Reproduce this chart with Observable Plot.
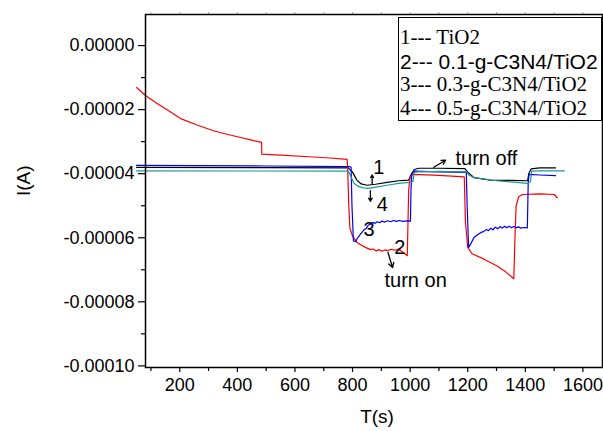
<!DOCTYPE html>
<html><head><meta charset="utf-8">
<script src="https://cdn.jsdelivr.net/npm/d3@7"></script>
<script src="https://cdn.jsdelivr.net/npm/@observablehq/plot@0.6"></script>
<style>
body{margin:0;background:#fff;}
#wrap{position:relative;width:603px;height:431px;overflow:hidden;}
#wrap svg{display:block;}
#legend{position:absolute;left:398px;top:17px;width:204px;height:104px;border:1.2px solid #000;box-sizing:border-box;background:#fff;}
.lg{position:absolute;left:1px;white-space:nowrap;font-size:21px;line-height:21px;color:#000;}
.serif{font-family:"Liberation Serif","Times New Roman",serif;}
.sans{font-family:"Liberation Sans",Arial,sans-serif;}
</style></head><body>
<div id="wrap"></div>
<script>
// ---- data ----
const legendLabels = ["1--- TiO2","2--- 0.1-g-C3N4/TiO2","3--- 0.3-g-C3N4/TiO2","4--- 0.5-g-C3N4/TiO2"];
const xTicks = [200,400,600,800,1000,1200,1400,1600];
const xMinor = [100,300,500,700,900,1100,1300,1500];
const yTicks = [0,-0.00002,-0.00004,-0.00006,-0.00008,-0.0001];
const yMinor = [-0.00001,-0.00003,-0.00005,-0.00007,-0.00009];

// 1 --- TiO2 (black)
const T1 = [50,500,785,800,815,830,850,880,920,960,995,1005,1015,1030,1100,1190,1200,1221,1279,1350,1408,1412,1420,1450,1505];
const I1 = [-3.80e-5,-3.81e-5,-3.82e-5,-3.95e-5,-4.20e-5,-4.32e-5,-4.36e-5,-4.33e-5,-4.27e-5,-4.22e-5,-4.20e-5,-4.00e-5,-3.87e-5,-3.83e-5,-3.83e-5,-3.84e-5,-3.95e-5,-4.12e-5,-4.20e-5,-4.21e-5,-4.22e-5,-4.00e-5,-3.85e-5,-3.82e-5,-3.82e-5];

// 2 --- 0.1-g-C3N4/TiO2 (red)
const T2 = [50,81,120,160,203,260,317,360,411,450,484,485,550,650,720,781,783,787,791,800,816,828,845,862,872,882,892,902,912,922,935,948,960,975,990,995,1000,1010,1100,1188,1192,1200,1215,1255,1302,1330,1360,1364,1368,1377,1390,1450,1500,1511];
const I2 = [-1.31e-5,-1.56e-5,-1.80e-5,-2.03e-5,-2.28e-5,-2.48e-5,-2.66e-5,-2.76e-5,-2.87e-5,-2.95e-5,-3.02e-5,-3.39e-5,-3.42e-5,-3.47e-5,-3.51e-5,-3.55e-5,-3.80e-5,-5.00e-5,-5.70e-5,-5.95e-5,-6.15e-5,-6.22e-5,-6.30e-5,-6.37e-5,-6.35e-5,-6.41e-5,-6.37e-5,-6.42e-5,-6.38e-5,-6.40e-5,-6.36e-5,-6.39e-5,-6.35e-5,-6.45e-5,-6.56e-5,-4.50e-5,-4.10e-5,-4.02e-5,-4.05e-5,-4.10e-5,-5.50e-5,-6.30e-5,-6.50e-5,-6.66e-5,-6.88e-5,-7.05e-5,-7.28e-5,-6.00e-5,-5.00e-5,-4.72e-5,-4.65e-5,-4.63e-5,-4.65e-5,-4.75e-5];

// 3 --- 0.3-g-C3N4/TiO2 (blue)
const T3 = [50,500,790,795,798,803,810,818,828,840,848,855,862,870,878,886,894,902,912,922,932,942,952,962,975,990,1001,1003,1006,1015,1100,1195,1198,1203,1210,1221,1235,1245,1256,1265,1272,1280,1288,1296,1304,1312,1320,1328,1336,1344,1352,1360,1368,1376,1385,1395,1407,1410,1413,1450,1505];
const I3 = [-3.74e-5,-3.76e-5,-3.78e-5,-3.80e-5,-5.00e-5,-6.10e-5,-6.12e-5,-6.00e-5,-5.88e-5,-5.75e-5,-5.70e-5,-5.60e-5,-5.58e-5,-5.52e-5,-5.55e-5,-5.50e-5,-5.53e-5,-5.48e-5,-5.51e-5,-5.47e-5,-5.50e-5,-5.46e-5,-5.49e-5,-5.46e-5,-5.49e-5,-5.47e-5,-5.48e-5,-4.50e-5,-4.00e-5,-3.92e-5,-3.94e-5,-3.96e-5,-5.00e-5,-6.30e-5,-6.20e-5,-6.00e-5,-5.90e-5,-5.84e-5,-5.80e-5,-5.74e-5,-5.78e-5,-5.70e-5,-5.75e-5,-5.67e-5,-5.72e-5,-5.65e-5,-5.70e-5,-5.64e-5,-5.69e-5,-5.64e-5,-5.69e-5,-5.65e-5,-5.69e-5,-5.66e-5,-5.70e-5,-5.68e-5,-5.69e-5,-4.30e-5,-4.02e-5,-4.04e-5,-4.06e-5];

// 4 --- 0.5-g-C3N4/TiO2 (teal)
const T4 = [50,785,795,805,817,825,839,855,880,920,960,1005,1010,1014,1030,1100,1195,1205,1221,1300,1408,1418,1422,1450,1536];
const I4 = [-3.91e-5,-3.92e-5,-4.10e-5,-4.30e-5,-4.38e-5,-4.41e-5,-4.44e-5,-4.46e-5,-4.42e-5,-4.36e-5,-4.30e-5,-4.26e-5,-4.24e-5,-3.96e-5,-3.94e-5,-3.93e-5,-3.94e-5,-4.05e-5,-4.12e-5,-4.22e-5,-4.30e-5,-4.25e-5,-3.92e-5,-3.91e-5,-3.91e-5];

// annotations
const annoText = ["1","4","3","2","turn on","turn off"];
const annoT = [891,903,857,964,1019,1265];
const annoI = [-3.80e-5,-4.95e-5,-5.73e-5,-6.32e-5,-7.34e-5,-3.53e-5];
const arrowT1 = [868,862,923,1082];
const arrowI1 = [-4.31e-5,-4.53e-5,-6.46e-5,-3.80e-5];
const arrowT2 = [868,862,939,1123];
const arrowI2 = [-4.04e-5,-4.86e-5,-6.93e-5,-3.58e-5];

// ---- build tables ----
const series = [
  {T:T1, I:I1, color:"#000000"},
  {T:T2, I:I2, color:"#ff0000"},
  {T:T3, I:I3, color:"#0000ff"},
  {T:T4, I:I4, color:"#1a9a9a"}
];
const annos = annoText.map((t,i)=>({text:t, T:annoT[i], I:annoI[i]}));
const arrows = arrowT1.map((t,i)=>({x1:t, y1:arrowI1[i], x2:arrowT2[i], y2:arrowI2[i]}));

const lineMarks = series.map(s => Plot.line(s.T.map((t,i)=>({T:t, I:s.I[i]})), {x:"T", y:"I", stroke:s.color, strokeWidth:1.2}));

const chart = Plot.plot({
  width:603, height:431,
  marginLeft:145, marginRight:1, marginTop:14, marginBottom:64,
  x:{domain:[81,1668]},
  y:{domain:[-0.0001005,0.0000097]},
  style:{fontFamily:"'Liberation Sans', Arial, sans-serif", fontSize:"18px", color:"#000", background:"#fff", overflow:"visible"},
  marks:[
    Plot.axisX({anchor:"top", ticks:[...xTicks,...xMinor], tickSize:3, tickFormat:()=>"", stroke:"#aaa", label:null}),
    Plot.axisY({ticks:yTicks, tickSize:7, tickPadding:4, tickFormat:d=>d.toFixed(5), label:null, fontSize:18, strokeWidth:1.2}),
    Plot.axisY({ticks:yMinor, tickSize:4, tickFormat:()=>"", label:null, strokeWidth:1.2}),
    Plot.axisX({ticks:xTicks, tickSize:5, tickPadding:6, tickFormat:d=>String(d), label:null, fontSize:18, strokeWidth:1.2}),
    Plot.axisX({ticks:xMinor, tickSize:4, tickFormat:()=>"", label:null, strokeWidth:1.2}),
    ...lineMarks,
    Plot.frame({stroke:"#000", strokeWidth:1.5}),
    Plot.text(annos, {x:"T", y:"I", text:"text", fontSize:20, fill:"#000"}),
    Plot.arrow(arrows, {x1:"x1", y1:"y1", x2:"x2", y2:"y2", stroke:"#000", strokeWidth:1.3, headLength:6}),
    Plot.text(["T(s)"], {frameAnchor:"bottom", dx:3, dy:55, text:d=>d, fontSize:19}),
    Plot.text(["I(A)"], {frameAnchor:"left", dx:-122, dy:5, rotate:-90, text:d=>d, fontSize:19})
  ]
});
const wrap = document.getElementById("wrap");
wrap.appendChild(chart);

// legend overlay
const leg = document.createElement("div");
leg.id = "legend";
const tops = [9, 33, 56, 80];
legendLabels.forEach((t,i)=>{
  const d = document.createElement("div");
  d.className = "lg " + (i===1 ? "sans" : "serif");
  d.style.top = tops[i] + "px";
  d.textContent = t;
  leg.appendChild(d);
});
wrap.appendChild(leg);
</script>
</body></html>
